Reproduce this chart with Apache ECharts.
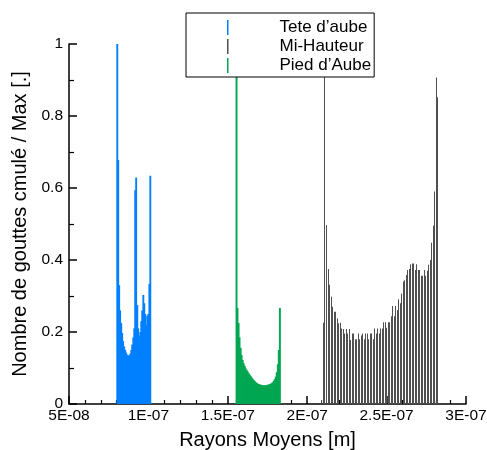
<!DOCTYPE html>
<html>
<head>
<meta charset="utf-8">
<script src="https://cdn.jsdelivr.net/npm/echarts@6/dist/echarts.min.js"></script>
<style>
html,body{margin:0;padding:0;background:#fff;}
#chart{width:487px;height:450px;}
</style>
</head>
<body>
<div id="chart"></div>
<script>
// Radii in nanometres (axis shows metres in E notation)
const teteRadiusNm = [80.4, 81.0, 81.6, 82.2, 82.9, 83.5, 84.1, 84.8, 85.4, 86.0, 86.7, 87.3, 87.9, 88.6, 89.2, 89.8, 90.5, 91.1, 91.7, 92.3, 93.0, 93.6, 94.2, 94.9, 95.5, 96.1, 96.8, 97.4, 98.0, 98.7, 99.3, 99.9, 100.6, 101.2];
const teteValues = [1.0, 0.678, 0.33, 0.26, 0.225, 0.197, 0.175, 0.16, 0.15, 0.143, 0.137, 0.135, 0.135, 0.14, 0.15, 0.165, 0.185, 0.21, 0.594, 0.629, 0.275, 0.21, 0.19, 0.2, 0.23, 0.26, 0.303, 0.28, 0.25, 0.22, 0.245, 0.25, 0.333, 0.634];

const miRadiusNm = [209.3, 210.2, 211.2, 212.1, 213.1, 214.0, 215.0, 215.9, 216.9, 217.8, 218.8, 219.7, 220.7, 221.6, 222.6, 223.5, 224.5, 225.4, 226.4, 227.3, 228.3, 229.2, 230.2, 231.1, 232.1, 233.0, 233.9, 234.9, 235.8, 236.8, 237.7, 238.7, 239.6, 240.6, 241.5, 242.5, 243.4, 244.4, 245.3, 246.3, 247.2, 248.2, 249.1, 250.1, 251.0, 251.9, 252.9, 253.8, 254.8, 255.7, 256.7, 257.6, 258.6, 259.5, 260.5, 261.4, 262.4, 263.3, 264.3, 265.2, 266.2, 267.1, 268.1, 269.0, 270.0, 270.9, 271.8, 272.8, 273.7, 274.7, 275.6, 276.6, 277.5, 278.5, 279.4, 280.4, 281.3, 282.3];
const miValues = [0.011, 0.226, 1.0, 0.497, 0.375, 0.331, 0.298, 0.270, 0.256, 0.256, 0.238, 0.224, 0.226, 0.210, 0.208, 0.196, 0.208, 0.196, 0.208, 0.178, 0.196, 0.196, 0.18, 0.18, 0.196, 0.18, 0.19, 0.196, 0.18, 0.196, 0.196, 0.18, 0.196, 0.196, 0.18, 0.21, 0.196, 0.21, 0.196, 0.21, 0.21, 0.227, 0.227, 0.212, 0.227, 0.227, 0.244, 0.272, 0.244, 0.272, 0.261, 0.291, 0.28, 0.307, 0.34, 0.344, 0.358, 0.372, 0.375, 0.388, 0.39, 0.39, 0.372, 0.388, 0.372, 0.372, 0.356, 0.356, 0.372, 0.356, 0.37, 0.387, 0.4, 0.448, 0.495, 0.59, 0.907, 0.852];

const piedRadiusNm = [155.5, 156.1, 156.8, 157.4, 158.1, 158.7, 159.4, 160.0, 160.7, 161.3, 162.0, 162.6, 163.3, 163.9, 164.6, 165.2, 165.9, 166.5, 167.2, 167.8, 168.5, 169.1, 169.8, 170.4, 171.1, 171.7, 172.4, 173.0, 173.7, 174.3, 175.0, 175.6, 176.3, 176.9, 177.6, 178.2, 178.9, 179.5, 180.2, 180.8, 181.5, 182.1, 182.8];
const piedValues = [1.0, 0.267, 0.225, 0.185, 0.156, 0.136, 0.122, 0.113, 0.106, 0.099, 0.094, 0.09, 0.085, 0.081, 0.077, 0.073, 0.069, 0.066, 0.063, 0.06, 0.058, 0.056, 0.055, 0.054, 0.053, 0.053, 0.052, 0.052, 0.052, 0.053, 0.053, 0.054, 0.055, 0.056, 0.058, 0.06, 0.064, 0.069, 0.076, 0.088, 0.11, 0.15, 0.267];

const seriesNames = ['Tete d\u2019aube', 'Mi-Hauteur', 'Pied d\u2019Aube'];
const xTickLabels = ['5E-08', '1E-07', '1.5E-07', '2E-07', '2.5E-07', '3E-07'];
const yTickLabels = ['0', '0.2', '0.4', '0.6', '0.8', '1'];

const X_MIN = 50, X_MAX = 300, X_INT = 50;
const Y_MIN = 0, Y_MAX = 1, Y_INT = 0.2;

function pairs(xs, ys) { return xs.map((x, i) => [x, ys[i]]); }

// mode 'fill': contiguous bars (width = bin width + small overlap); mode 'thin': 1px crisp bars
function makeRender(color, widthNm, mode) {
  return function (params, api) {
    const x = api.value(0), y = api.value(1);
    const top = api.coord([x, y]);
    const base = api.coord([x, 0]);
    let w, left;
    if (mode === 'thin') {
      w = 1; left = Math.round(top[0] - 0.5);
    } else {
      w = api.size([widthNm, 0])[0] + 0.9;
      left = top[0] - w / 2;
    }
    return {
      type: 'rect',
      shape: { x: left, y: top[1], width: w, height: base[1] - top[1] },
      style: { fill: color }
    };
  };
}

const colors = ['#0080ff', '#505050', '#00a651'];
const font = '"Liberation Sans", Arial, sans-serif';

const chart = echarts.init(document.getElementById('chart'), null, { renderer: 'canvas' });
chart.setOption({
  animation: false,
  backgroundColor: '#fff',
  grid: { left: 69, right: 21, top: 44, bottom: 46, containLabel: false, outerBoundsMode: 'none' },
  legend: {
    data: seriesNames,
    orient: 'vertical',
    left: 186, top: 13,
    padding: [5, 3, 2, 41],
    itemGap: 0,
    itemWidth: 1.5, itemHeight: 15,
    icon: 'rect',
    backgroundColor: '#fff',
    borderColor: '#000', borderWidth: 1,
    textStyle: { fontFamily: font, fontSize: 17, color: '#000', lineHeight: 19, padding: [0, 0, 0, 46] },
    z: 10
  },
  xAxis: {
    type: 'value', min: X_MIN, max: X_MAX, interval: X_INT,
    name: 'Rayons Moyens [m]', nameLocation: 'middle', nameGap: 26,
    nameTextStyle: { fontFamily: font, fontSize: 20, color: '#000' },
    axisLine: { show: true, onZero: false, lineStyle: { color: '#000', width: 1.5 } },
    axisTick: { show: true, inside: true, length: 8, lineStyle: { color: '#000', width: 1.5 } },
    minorTick: { show: true, splitNumber: 5, length: 4, lineStyle: { color: '#000', width: 1.2 } },
    splitLine: { show: false },
    axisLabel: {
      fontFamily: font, fontSize: 15.5, color: '#000', margin: 4,
      formatter: v => xTickLabels[Math.round((v - X_MIN) / X_INT)] || ''
    }
  },
  yAxis: {
    type: 'value', min: Y_MIN, max: Y_MAX, interval: Y_INT,
    name: 'Nombre de gouttes cmul\u00e9 / Max [.]', nameLocation: 'middle', nameGap: 38,
    nameTextStyle: { fontFamily: font, fontSize: 20, color: '#000' },
    axisLine: { show: true, lineStyle: { color: '#000', width: 1.5 } },
    axisTick: { show: true, inside: true, length: 8, lineStyle: { color: '#000', width: 1.5 } },
    minorTick: { show: true, splitNumber: 2, length: 5, lineStyle: { color: '#000', width: 1.2 } },
    splitLine: { show: false },
    axisLabel: {
      fontFamily: font, fontSize: 15.5, color: '#000', margin: 6,
      formatter: v => yTickLabels[Math.round((v - Y_MIN) / Y_INT)] || ''
    }
  },
  series: [
    {
      name: seriesNames[0], type: 'custom', clip: true,
      itemStyle: { color: colors[0] },
      renderItem: makeRender(colors[0], 0.63, 'fill'),
      encode: { x: 0, y: 1 },
      data: pairs(teteRadiusNm, teteValues)
    },
    {
      name: seriesNames[1], type: 'custom', clip: true,
      itemStyle: { color: colors[1] },
      renderItem: makeRender(colors[1], 0.6, 'thin'),
      encode: { x: 0, y: 1 },
      data: pairs(miRadiusNm, miValues)
    },
    {
      name: seriesNames[2], type: 'custom', clip: true,
      itemStyle: { color: colors[2] },
      renderItem: makeRender(colors[2], 0.65, 'fill'),
      encode: { x: 0, y: 1 },
      data: pairs(piedRadiusNm, piedValues)
    }
  ]
});
</script>
</body>
</html>
